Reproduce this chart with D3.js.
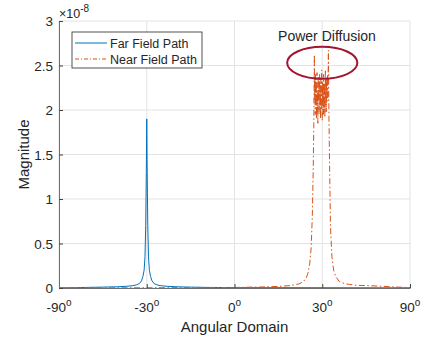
<!DOCTYPE html>
<html>
<head>
<meta charset="utf-8">
<script src="https://cdn.jsdelivr.net/npm/d3@7"></script>
<style>
  body { margin: 0; background: #fff; }
  text { font-family: "Liberation Sans", Arial, sans-serif; fill: #262626; }
</style>
</head>
<body>
<script>
// x is the sine of the angle (ticks labelled in degrees), magnitudes are in units of 1e-8
const xTicks = [-90, -30, 0, 30, 90];
const yTicks = [0, 0.5, 1, 1.5, 2, 2.5, 3];

const farSin = [-1, -0.95, -0.9, -0.8333, -0.75, -0.6667, -0.6167, -0.5833, -0.5583, -0.5417, -0.53, -0.5217, -0.515, -0.51, -0.5058, -0.5025, -0.5,
  -0.4975, -0.4942, -0.49, -0.485, -0.4783, -0.47, -0.4583, -0.4417, -0.4167, -0.3833, -0.3333, -0.25, -0.1667, 0, 0.5, 0.8, 1];
const farValues = [0.002, 0.003, 0.004, 0.007, 0.01, 0.014, 0.019, 0.025, 0.035, 0.05, 0.08, 0.13, 0.2, 0.35, 0.7, 1.3, 1.9,
  1.3, 0.7, 0.35, 0.2, 0.13, 0.08, 0.05, 0.035, 0.025, 0.019, 0.014, 0.01, 0.007, 0.004, 0.003, 0.002, 0.002];

const nearSin = [-1, -0.7, -0.4, 0, 0.1667, 0.25, 0.3167, 0.3667, 0.3917, 0.4083, 0.4183, 0.4283, 0.4367, 0.4433, 0.4483, 0.4517, 0.455,
  0.457, 0.458, 0.460, 0.462, 0.463, 0.465, 0.467, 0.468, 0.470, 0.472, 0.473, 0.475, 0.477, 0.478, 0.480, 0.482,
  0.483, 0.485, 0.487, 0.488, 0.490, 0.492, 0.493, 0.495, 0.497, 0.498, 0.500, 0.502, 0.503, 0.505, 0.507, 0.508,
  0.510, 0.512, 0.513, 0.515, 0.517, 0.518, 0.520, 0.522, 0.523, 0.525, 0.527, 0.528, 0.530, 0.532,
  0.535, 0.5383, 0.5417, 0.5467, 0.555, 0.565, 0.5767, 0.5983, 0.6267, 0.655, 0.7, 0.7667, 0.88, 0.95, 1];
const nearValues = [0.001, 0.002, 0.003, 0.006, 0.012, 0.018, 0.027, 0.045, 0.07, 0.11, 0.165, 0.27, 0.45, 0.8, 1.3, 1.8, 2.62,
  2.1, 2.35, 1.95, 2.4, 2.05, 2.3, 1.9, 2.25, 2.42, 2.0, 2.2, 1.85, 2.38, 2.1, 2.3, 1.95,
  2.15, 2.4, 2.05, 2.28, 1.9, 2.35, 2.12, 2.0, 2.45, 2.2, 1.88, 2.32, 2.08, 2.25, 1.95, 2.4,
  2.15, 2.02, 2.3, 1.92, 2.22, 2.44, 2.05, 2.3, 1.98, 2.36, 2.12, 2.25, 2.4, 2.1,
  2.67, 1.9, 1.4, 0.7, 0.35, 0.2, 0.13, 0.07, 0.05, 0.04, 0.03, 0.026, 0.015, 0.008, 0.005];

const seriesNames = ["Far Field Path", "Near Field Path"];
const seriesColors = ["#0072BD", "#D95319"];
const seriesDash = [null, "6,2.5,1.5,2.5"];

const note = { text: "Power Diffusion", u: 0.5, value: 2.53, rU: 0.2, rValue: 0.18 };

function sinDeg(a) {
  return Math.sin(a * Math.PI / 180);
}

let svg = d3.select("body").append("svg")
    .attr("width", 426)
    .attr("height", 343);

let x = d3.scaleLinear().domain([-1, 1]).range([59, 410]);
let y = d3.scaleLinear().domain([0, 3]).range([288, 21]);

// grid
svg.append("g").selectAll("line").data(xTicks)
  .enter().append("line")
    .attr("x1", d => x(sinDeg(d))).attr("x2", d => x(sinDeg(d)))
    .attr("y1", y(0)).attr("y2", y(3))
    .attr("stroke", "#e3e3e3");
svg.append("g").selectAll("line").data(yTicks)
  .enter().append("line")
    .attr("x1", x(-1)).attr("x2", x(1))
    .attr("y1", d => y(d)).attr("y2", d => y(d))
    .attr("stroke", "#e3e3e3");

// series
let line = d3.line()
    .x(d => x(d[0]))
    .y(d => y(d[1]));

let farData = farSin.map((u, i) => [u, farValues[i]]);
let nearData = nearSin.map((u, i) => [u, nearValues[i]]);

[farData, nearData].forEach((data, i) => {
  svg.append("path")
      .datum(data)
      .attr("d", line)
      .attr("fill", "none")
      .attr("stroke", seriesColors[i])
      .attr("stroke-width", 1)
      .attr("stroke-dasharray", seriesDash[i]);
});

// axes
let xAxis = svg.append("g")
    .attr("transform", `translate(0,${y(0)})`)
    .call(d3.axisBottom(x).tickValues(xTicks.map(sinDeg)).tickSizeInner(-4).tickSizeOuter(0).tickFormat(""));
let yAxis = svg.append("g")
    .attr("transform", `translate(${x(-1)},0)`)
    .call(d3.axisLeft(y).tickValues(yTicks).tickSizeInner(-4).tickSizeOuter(0).tickFormat(""));
[xAxis, yAxis].forEach(a => {
  a.select(".domain").attr("stroke", "#6e6e6e");
  a.selectAll(".tick line").attr("stroke", "#444");
});

xTicks.forEach(t => {
  let lbl = svg.append("text")
      .attr("x", x(sinDeg(t)))
      .attr("y", 311.5)
      .attr("text-anchor", "middle")
      .style("font-size", "13.5px");
  lbl.append("tspan").text(t);
  lbl.append("tspan")
      .attr("dy", -6)
      .style("font-size", "10px")
      .text("o");
});

svg.selectAll(".ylbl").data(yTicks)
  .enter().append("text")
    .attr("class", "ylbl")
    .attr("x", 53)
    .attr("y", d => y(d) + 5)
    .attr("text-anchor", "end")
    .style("font-size", "13.5px")
    .text(d => d);

let expo = svg.append("text")
    .attr("x", 59)
    .attr("y", 18)
    .style("font-size", "12.5px");
expo.append("tspan").text("\u00d710");
expo.append("tspan")
    .attr("dy", -6)
    .style("font-size", "10px")
    .text("-8");

svg.append("text")
    .attr("x", (x(-1) + x(1)) / 2)
    .attr("y", 331.5)
    .attr("text-anchor", "middle")
    .style("font-size", "15px")
    .text("Angular Domain");

svg.append("text")
    .attr("transform", `translate(29,${(y(0) + y(3)) / 2}) rotate(-90)`)
    .attr("text-anchor", "middle")
    .style("font-size", "15px")
    .text("Magnitude");

// legend
let legend = svg.append("g").attr("transform", "translate(72,32)");
legend.append("rect")
    .attr("width", 130)
    .attr("height", 36)
    .attr("fill", "#fff")
    .attr("stroke", "#262626")
    .attr("stroke-width", 0.8);
seriesNames.forEach((name, i) => {
  let cy = 11 + i * 16;
  legend.append("line")
      .attr("x1", 3).attr("x2", 35)
      .attr("y1", cy).attr("y2", cy)
      .attr("stroke", seriesColors[i])
      .attr("stroke-dasharray", seriesDash[i] ? "4,2,1,2" : null);
  legend.append("text")
      .attr("x", 38)
      .attr("y", cy + 4.5)
      .style("font-size", "12.5px")
      .text(name);
});

// annotation
svg.append("ellipse")
    .attr("cx", x(note.u))
    .attr("cy", y(note.value))
    .attr("rx", x(note.u + note.rU) - x(note.u))
    .attr("ry", y(note.value - note.rValue) - y(note.value))
    .attr("fill", "none")
    .attr("stroke", "#A2142F")
    .attr("stroke-width", 2);

svg.append("text")
    .attr("x", 327)
    .attr("y", 40.5)
    .attr("text-anchor", "middle")
    .style("font-size", "14px")
    .text(note.text);
</script>
</body>
</html>
